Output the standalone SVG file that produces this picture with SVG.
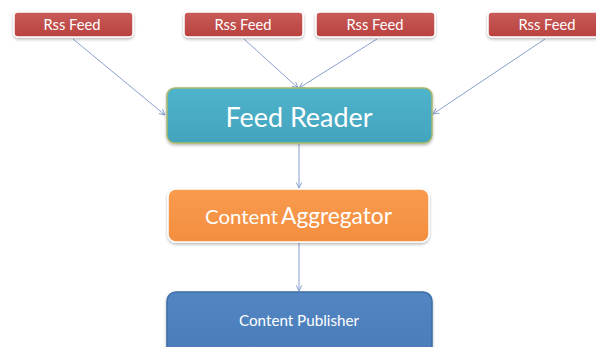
<svg xmlns="http://www.w3.org/2000/svg" width="596" height="347" viewBox="0 0 596 347">
  <defs>
    <linearGradient id="gRed" x1="0" y1="0" x2="0" y2="1">
      <stop offset="0" stop-color="#c85c59"/>
      <stop offset="1" stop-color="#b9413e"/>
    </linearGradient>
    <linearGradient id="gTeal" x1="0" y1="0" x2="0" y2="1">
      <stop offset="0" stop-color="#4fb3cc"/>
      <stop offset="1" stop-color="#43a4bd"/>
    </linearGradient>
    <linearGradient id="gOrange" x1="0" y1="0" x2="0" y2="1">
      <stop offset="0" stop-color="#f99b4e"/>
      <stop offset="1" stop-color="#f38e3f"/>
    </linearGradient>
    <linearGradient id="gBlue" x1="0" y1="0" x2="0" y2="1">
      <stop offset="0" stop-color="#5286c3"/>
      <stop offset="1" stop-color="#4a7cb8"/>
    </linearGradient>
    <filter id="shadow" x="-10%" y="-20%" width="120%" height="150%">
      <feDropShadow dx="0" dy="1.5" stdDeviation="1.5" flood-color="#000" flood-opacity="0.3"/>
    </filter>
    <marker id="arrow" viewBox="0 0 10 10" refX="9" refY="5" markerWidth="7" markerHeight="7" orient="auto" markerUnits="userSpaceOnUse">
      <path d="M1,1 L9,5 L1,9" fill="none" stroke="#8a9fd0" stroke-width="1.4"/>
    </marker>
  </defs>
  <style>
    .feed rect { fill: url(#gRed); stroke: #ffffff; stroke-width: 1.5; filter: url(#shadow); }
    .label { font-family: Lato, "Open Sans", "Liberation Sans", sans-serif; fill: #ffffff; text-anchor: middle; }
    .feed text { font-size: 15px; }
    .link { stroke: #8a9fd0; stroke-width: 1; fill: none; marker-end: url(#arrow); }
  </style>

  <rect x="0" y="0" width="596" height="347" fill="#ffffff"/>

  <!-- connectors -->
  <g id="connectors">
    <line class="link" x1="73" y1="39" x2="165" y2="115"/>
    <line class="link" x1="244" y1="39" x2="298" y2="88"/>
    <line class="link" x1="377" y1="39" x2="299" y2="88"/>
    <line class="link" x1="545" y1="39" x2="433" y2="114"/>
    <line class="link" x1="299" y1="144" x2="299" y2="188"/>
    <line class="link" x1="299" y1="243" x2="299" y2="291"/>
  </g>

  <!-- feed sources -->
  <g id="feed1" class="feed">
    <rect x="14" y="12" width="119" height="25" rx="4"/>
    <text class="label" x="72" y="30" textLength="57" lengthAdjust="spacingAndGlyphs">Rss Feed</text>
  </g>
  <g id="feed2" class="feed">
    <rect x="184" y="12" width="119" height="25" rx="4"/>
    <text class="label" x="243" y="30" textLength="57" lengthAdjust="spacingAndGlyphs">Rss Feed</text>
  </g>
  <g id="feed3" class="feed">
    <rect x="316" y="12" width="119" height="25" rx="4"/>
    <text class="label" x="375" y="30" textLength="57" lengthAdjust="spacingAndGlyphs">Rss Feed</text>
  </g>
  <g id="feed4" class="feed">
    <rect x="488" y="12" width="119" height="25" rx="4"/>
    <text class="label" x="547" y="30" textLength="57" lengthAdjust="spacingAndGlyphs">Rss Feed</text>
  </g>

  <!-- feed reader -->
  <g id="feed-reader">
    <rect x="167" y="88" width="265" height="55" rx="8" fill="url(#gTeal)" stroke="#a8b86a" stroke-width="1.5" filter="url(#shadow)"/>
    <text class="label" x="299" y="127" font-size="27" textLength="147" lengthAdjust="spacingAndGlyphs">Feed Reader</text>
  </g>

  <!-- content aggregator -->
  <g id="content-aggregator">
    <rect x="168" y="189" width="261" height="53" rx="8" fill="url(#gOrange)" stroke="#ffffff" stroke-width="1.5" filter="url(#shadow)"/>
    <text class="label" x="241.5" y="224" font-size="20" textLength="73" lengthAdjust="spacingAndGlyphs">Content</text>
    <text class="label" x="336.5" y="224" font-size="24" textLength="111" lengthAdjust="spacingAndGlyphs">Aggregator</text>
  </g>

  <!-- content publisher -->
  <g id="content-publisher">
    <rect x="167" y="292" width="265" height="64" rx="9" fill="url(#gBlue)" stroke="#3f6da5" stroke-width="1.5" filter="url(#shadow)"/>
    <text class="label" x="299" y="326" font-size="15" textLength="120" lengthAdjust="spacingAndGlyphs">Content Publisher</text>
  </g>
</svg>
